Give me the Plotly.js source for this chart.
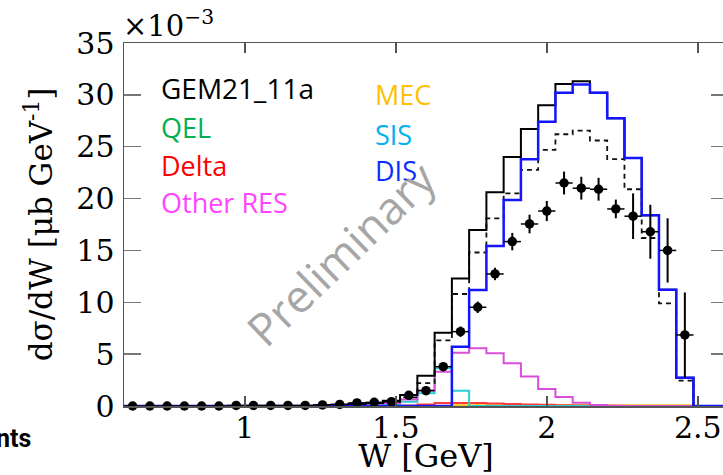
<!DOCTYPE html>
<html>
<head>
<meta charset="utf-8">
<script src="https://cdn.plot.ly/plotly-3.0.1.min.js"></script>
<style>
html, body { margin: 0; padding: 0; overflow: hidden; background: #fff; }
#chart { width: 740px; height: 475px; }
</style>
</head>
<body>
<div id="chart"></div>
<script>
// Binning: 35 bins of W from 0.6 to 2.6 GeV
const W_MIN = 0.6;
const W_MAX = 2.6;
const N_BINS = 35;

// Histogram contents (units of 1e-3 ub/GeV), one value per bin
const totalGEM = [0,0,0,0,0,0,0,0,0,0,0, 0.05,0.1,0.2,0.3, 0.5,1.06,2.91,7.07, 12.3,16.97,20.6,24.0,26.7, 29.0,31.05,31.3,30.2,27.75, 23.9,18.4,11.2,2.72,0,0];
const dashedModel = [0,0,0,0,0,0,0,0,0,0,0, 0.05,0.1,0.2,0.3, 0.4,0.84,2.2,6.33, 10.8,14.8,18.1,20.5,22.76, 24.7,26.2,26.55,25.6,23.8, 20.9,16.2,9.9,2.44,0,0];
const qel = [0,0,0,0,0,0,0,0,0,0,0,0,0,0,0,0,0,0,0,0,0,0,0,0,0,0,0,0,0,0,0,0,0,0,0];
const delta = [0,0,0,0,0,0,0,0,0,0,0,0,0,0,0, 0.03,0.05,0.15,0.3, 0.3,0.28,0.25,0.2,0.15, 0.12,0.08,0.05,0.03, 0,0,0,0,0,0,0];
const otherRes = [0,0,0,0,0,0,0,0,0,0,0, 0.1,0.15,0.2,0.25, 0.3,0.62,1.5,3.3, 5.14,5.56,5.08,4.11,2.85, 1.65,0.87,0.32,0.1,0.02, 0,0,0,0,0,0];
const mec = [0,0,0,0,0,0,0,0,0,0,0,0,0,0,0,0,0,0,0, 0.08,0.08,0.08,0.08,0.08,0.08,0.08,0.08,0.08,0.08,0.08,0.08,0.08,0.08, 0,0];
const sis = [0,0,0,0,0,0,0,0,0,0,0,0,0,0, 0.05, 0.15,0.4,1.22,3.65, 1.48, 0,0,0,0,0,0,0,0,0,0,0,0,0,0,0];
const dis = [0,0,0,0,0,0,0,0,0,0,0,0,0,0,0,0,0,0,0, 5.72,11.19,15.43,19.86,23.8, 27.4,30.2,31.0,30.2,27.75, 23.9,18.4,11.2,2.72,0,0];

// Measured points (bins 0..32) and their uncertainties
const dataVals = [0,0,0,0,0,0, 0.05,0.05,0.05,0.05,0.05, 0.1,0.15,0.3,0.35, 0.42,1.03,1.48,3.79, 7.17,9.52,12.73,15.85,17.55, 18.8,21.5,21.0,20.9,19.0, 18.3,16.8,15.0,6.85];
const dataErrs = [0.02,0.02,0.02,0.02,0.02,0.02, 0.02,0.02,0.02,0.02,0.02, 0.1,0.1,0.1,0.1, 0.1,0.2,0.3,0.4, 0.5,0.55,0.6,0.84,0.9, 0.97,1.1,1.1,1.1,0.9, 2.2,2.6,3.1,4.1];

// Tick values
const xTicks = [1, 1.5, 2, 2.5];
const yTicks = [0, 5, 10, 15, 20, 25, 30, 35];

const binW = (W_MAX - W_MIN) / N_BINS;
const edges = [];
for (let i = 0; i <= N_BINS; i++) edges.push(W_MIN + i * binW);
const centers = [];
for (let i = 0; i < N_BINS; i++) centers.push(W_MIN + (i + 0.5) * binW);

function stepTrace(vals, name, color, width, dash) {
  return {
    type: 'scatter', mode: 'lines', name: name,
    x: edges, y: vals.concat([vals[vals.length - 1]]),
    line: { shape: 'hv', color: color, width: width, dash: dash || 'solid' },
    cliponaxis: false, showlegend: false, hoverinfo: 'skip'
  };
}

const traces = [
  stepTrace(qel, 'QEL', '#00b050', 2),
  stepTrace(mec, 'MEC', '#f2c318', 2),
  stepTrace(delta, 'Delta', '#ff3b3b', 2),
  stepTrace(sis, 'SIS', '#2ccfd0', 2),
  stepTrace(otherRes, 'Other RES', '#d94fd9', 2),
  stepTrace(dashedModel, 'Alternative model', '#111111', 1.8, '5px,4px'),
  stepTrace(totalGEM, 'GEM21_11a', '#000000', 2),
  stepTrace(dis, 'DIS', '#1414ff', 2.5),
  {
    type: 'scatter', mode: 'markers', name: 'Data',
    x: centers.slice(0, dataVals.length), y: dataVals,
    marker: { color: '#000', size: 9.5, symbol: 'circle' },
    error_y: { type: 'data', array: dataErrs, visible: true, color: '#000', thickness: 2, width: 0 },
    error_x: { type: 'constant', value: binW / 2, visible: true, color: '#000', thickness: 1.5, width: 0 },
    cliponaxis: false, showlegend: false
  }
];

// helpers for pixel->paper conversion (plot area: x 124..728, y 43..406)
const PL = 124, PW = 604, PT = 43, PH = 363;
const px = x => (x - PL) / PW;
const py = y => (PT + PH - y) / PH;

const legendFont = 'Open Sans, sans-serif';
const legendSize = 27;
const annotations = [
  { text: 'GEM21_11a', color: '#000000', x: 159, y: 88, size: 28 },
  { text: 'QEL', color: '#00b050', x: 159, y: 127 },
  { text: 'Delta', color: '#ff0000', x: 159, y: 165 },
  { text: 'Other RES', color: '#ff44ff', x: 159, y: 202 },
  { text: 'MEC', color: '#ffc000', x: 373, y: 94 },
  { text: 'SIS', color: '#00b0f0', x: 373, y: 134 },
  { text: 'DIS', color: '#0a2cff', x: 373, y: 170 }
].map(a => ({
  xref: 'paper', yref: 'paper', x: px(a.x), y: py(a.y),
  xanchor: 'left', yanchor: 'middle', showarrow: false,
  text: a.text, font: { family: legendFont, size: a.size || legendSize, color: a.color }
}));

annotations.push({
  xref: 'paper', yref: 'paper', x: px(340), y: py(253),
  xanchor: 'center', yanchor: 'middle', showarrow: false, textangle: -44,
  text: 'Preliminary', font: { family: legendFont, size: 45, color: '#a6a6a6' }
});
annotations.push({
  xref: 'paper', yref: 'paper', x: px(121), y: py(24),
  xanchor: 'left', yanchor: 'middle', showarrow: false,
  text: '×10<sup>−3</sup>', font: { family: 'DejaVu Serif, serif', size: 29, color: '#000' }
});
annotations.push({
  xref: 'paper', yref: 'paper', x: px(33), y: py(438),
  xanchor: 'right', yanchor: 'middle', showarrow: false,
  text: '<b>nts</b>', font: { family: 'Roboto, sans-serif', size: 25, color: '#000' }
});

const layout = {
  width: 740, height: 475,
  margin: { l: PL, r: 740 - PL - PW, t: PT, b: 475 - PT - PH },
  paper_bgcolor: '#fff', plot_bgcolor: '#fff',
  showlegend: false,
  font: { family: 'DejaVu Serif, serif', color: '#000' },
  xaxis: {
    range: [W_MIN, W_MAX], tickvals: xTicks,
    ticks: 'inside', ticklen: 10, tickwidth: 1.5, tickcolor: '#555',
    showline: true, linecolor: '#555', linewidth: 1.5, mirror: 'ticks',
    showgrid: false, zeroline: false,
    tickfont: { family: 'DejaVu Serif, serif', size: 30, color: '#000' },
    ticklabelstandoff: -6,
    title: { text: 'W [GeV]', font: { family: 'DejaVu Serif, serif', size: 32, color: '#000' }, standoff: 10 }
  },
  yaxis: {
    range: [0, 35], tickvals: yTicks,
    ticks: 'inside', ticklen: 17, tickwidth: 1.5, tickcolor: '#777',
    showline: true, linecolor: '#555', linewidth: 1.5, mirror: 'ticks',
    showgrid: false, zeroline: false,
    tickfont: { family: 'DejaVu Serif, serif', size: 30, color: '#000' },
    ticklabelstandoff: 2,
    title: { text: 'dσ/dW [μb GeV<sup>-1</sup>]', font: { family: 'DejaVu Serif, serif', size: 31, color: '#000' }, standoff: 14 }
  },
  annotations: annotations
};

Plotly.newPlot('chart', traces, layout, { staticPlot: true, displayModeBar: false });
</script>
</body>
</html>
